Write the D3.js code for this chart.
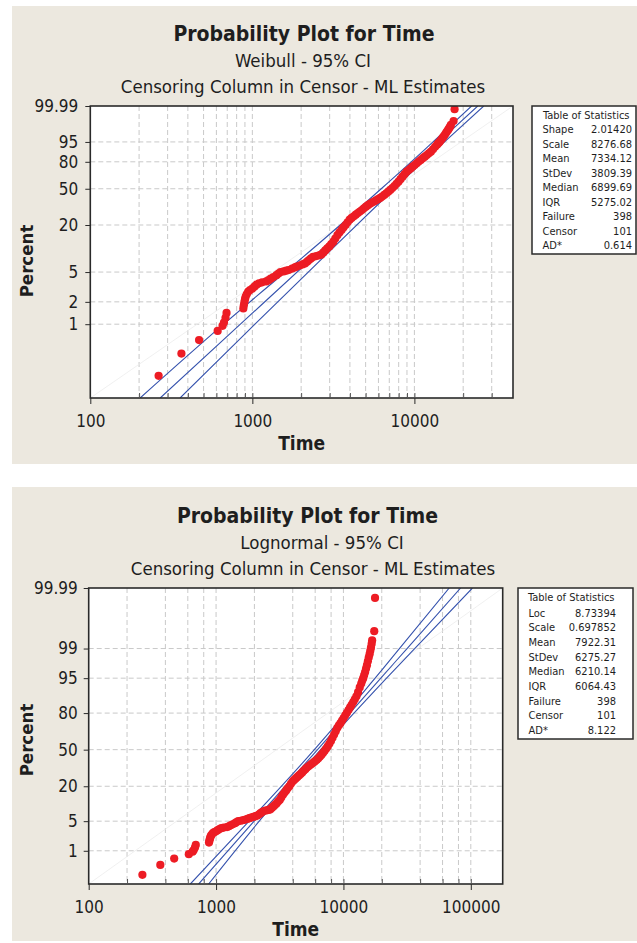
<!DOCTYPE html>
<html>
<head>
<meta charset="utf-8">
<script src="https://cdn.jsdelivr.net/npm/d3@7"></script>
<style>
  body { margin: 0; background: #fff; }
  svg text { font-family: "DejaVu Sans Condensed", "DejaVu Sans", sans-serif; fill: #1e1e1e; }
</style>
</head>
<body>
<div id="chart"></div>
<script>
// failure times and their plotted percentages (same estimates on both plots)
const times = [264, 365, 469, 611, 655, 668, 683, 693,
  880, 886, 893, 901, 910, 925, 944, 968, 1000, 1030, 1062, 1100, 1150, 1219, 1260, 1300,
  1350, 1409, 1450, 1493, 1560, 1620, 1675, 1760, 1830, 1879, 1960, 2040, 2113, 2180, 2236,
  2300, 2370, 2480, 2580, 2660, 2740, 2820, 2900, 2987, 3070, 3163, 3250, 3350, 3450, 3553,
  3650, 3760, 3870, 3987, 4100, 4228, 4350, 4477, 4610, 4746, 4880, 5027, 5170, 5322, 5480,
  5640, 5800, 5970, 6150, 6326, 6520, 6710, 6900, 7100, 7310, 7530, 7750, 7980, 8210, 8450,
  8700, 8960, 9220, 9490, 9760, 10040, 10340, 10640, 10960, 11280, 11600, 11940, 12290, 12650,
  13030, 13420, 13800, 14050, 14300, 14550, 14800, 15050, 15300, 15550, 15800, 16050, 16250,
  16450, 16650, 16800, 17450, 17700];
const percents = [0.20, 0.40, 0.61, 0.81, 0.95, 1.05, 1.22, 1.42,
  1.63, 1.80, 1.98, 2.17, 2.36, 2.55, 2.75, 2.88, 3.02, 3.20, 3.40, 3.55, 3.65, 3.75, 3.90, 4.08,
  4.30, 4.55, 4.78, 5.00, 5.10, 5.22, 5.32, 5.55, 5.75, 5.90, 6.10, 6.30, 6.50, 6.85, 7.20,
  7.55, 7.90, 8.10, 8.30, 8.45, 9.00, 9.60, 10.2, 10.8, 11.6, 12.4, 13.6, 15.0, 16.2, 17.4,
  18.7, 20.0, 21.6, 23.2, 24.3, 25.4, 26.5, 27.7, 28.8, 30.0, 31.4, 32.7, 34.0, 35.1, 36.2,
  37.2, 38.3, 39.4, 40.6, 41.9, 43.5, 45.2, 46.9, 48.7, 50.8, 53.0, 55.4, 57.9, 60.7, 63.6,
  66.5, 69.3, 71.2, 73.0, 74.9, 76.7, 78.5, 80.2, 81.9, 83.5, 84.9, 86.3, 87.7, 89.0,
  90.7, 92.4, 93.6, 94.4, 95.0, 95.7, 96.3, 96.9, 97.4, 97.9, 98.3, 98.6, 98.85,
  99.05, 99.25, 99.4, 99.68, 99.976];

// fitted line and 95% CI, read at a few percent levels
const weibullBandPct = [0.1, 1, 10, 50, 90, 99.99];
const weibullBandLeft = [203, 665, 2349, 6243, 11440, 22540];
const weibullBandMid = [270, 844, 2697, 6845, 12400, 24600];
const weibullBandRight = [358, 1038, 3097, 7505, 13440, 26800];

const lognormBandPct = [0.1, 5, 50, 95, 99, 99.99];
const lognormBandLeft = [628, 1816, 5911, 17730, 27500, 67700];
const lognormBandMid = [730, 1990, 6260, 19660, 31570, 83200];
const lognormBandRight = [874, 2181, 6629, 21800, 36240, 103000];

// axis ticks
const weibullYTicks = [99.99, 95, 80, 50, 20, 5, 2, 1];
const lognormYTicks = [99.99, 99, 95, 80, 50, 20, 5, 1];
const weibullDecades = [100, 1000, 10000];
const lognormDecades = [100, 1000, 10000, 100000];
const weibullGridX = [200, 300, 400, 500, 600, 700, 800, 900, 1000, 2000, 3000, 4000, 5000, 6000, 7000, 8000, 9000, 10000, 20000, 30000];
const lognormGridX = [200, 400, 600, 800, 1000, 2000, 4000, 6000, 8000, 10000, 20000, 40000, 60000, 80000, 100000];

// table of statistics
const weibullStatNames = ["Shape", "Scale", "Mean", "StDev", "Median", "IQR", "Failure", "Censor", "AD*"];
const weibullStatValues = ["2.01420", "8276.68", "7334.12", "3809.39", "6899.69", "5275.02", "398", "101", "0.614"];
const lognormStatNames = ["Loc", "Scale", "Mean", "StDev", "Median", "IQR", "Failure", "Censor", "AD*"];
const lognormStatValues = ["8.73394", "0.697852", "7922.31", "6275.27", "6210.14", "6064.43", "398", "101", "8.122"];

// inverse standard normal cdf (Acklam)
function qnorm(p) {
  const a = [-3.969683028665376e+01, 2.209460984245205e+02, -2.759285104469687e+02, 1.383577518672690e+02, -3.066479806614716e+01, 2.506628277459239e+00];
  const b = [-5.447609879822406e+01, 1.615858368580409e+02, -1.556989798598866e+02, 6.680131188771972e+01, -1.328068155288572e+01];
  const c = [-7.784894002430293e-03, -3.223964580411365e-01, -2.400758277161838e+00, -2.549732539343734e+00, 4.374664141464968e+00, 2.938163982698783e+00];
  const d = [7.784695709041462e-03, 3.224671290700398e-01, 2.445134137142996e+00, 3.754408661907416e+00];
  let q, r;
  if (p < 0.02425) {
    q = Math.sqrt(-2 * Math.log(p));
    return (((((c[0]*q+c[1])*q+c[2])*q+c[3])*q+c[4])*q+c[5]) / ((((d[0]*q+d[1])*q+d[2])*q+d[3])*q+1);
  }
  if (p > 1 - 0.02425) {
    q = Math.sqrt(-2 * Math.log(1 - p));
    return -(((((c[0]*q+c[1])*q+c[2])*q+c[3])*q+c[4])*q+c[5]) / ((((d[0]*q+d[1])*q+d[2])*q+d[3])*q+1);
  }
  q = p - 0.5; r = q * q;
  return (((((a[0]*r+a[1])*r+a[2])*r+a[3])*r+a[4])*r+a[5])*q / (((((b[0]*r+b[1])*r+b[2])*r+b[3])*r+b[4])*r+1);
}

const svg = d3.select("#chart").append("svg")
  .attr("width", 637)
  .attr("height", 943);

const panels = [
  {
    bgTop: 6, bgHeight: 458, plot: { l: 90.3, r: 513, t: 106, b: 398 }, xMax: 40600,
    tf: v => Math.log(-Math.log(1 - v / 100)),
    yTicks: weibullYTicks, decades: weibullDecades, gridX: weibullGridX,
    subtitle: "Weibull - 95% CI", titleX: 304, subX: 303, sub2X: 303, percentY: 261, yPad: 7,
    bandPct: weibullBandPct, bands: [weibullBandLeft, weibullBandMid, weibullBandRight],
    names: weibullStatNames, values: weibullStatValues,
    box: { x: 532, y: 106, w: 104, h: 148, labelX: 542.5, valueX: 632, headY: 119, row0: 133, step: 14.55 }
  },
  {
    bgTop: 487, bgHeight: 454, plot: { l: 88.7, r: 502.7, t: 588, b: 884 }, xMax: 178000,
    tf: v => qnorm(v / 100),
    yTicks: lognormYTicks, decades: lognormDecades, gridX: lognormGridX,
    subtitle: "Lognormal - 95% CI", titleX: 307.5, subX: 322, sub2X: 313, percentY: 740, yPad: 6,
    bandPct: lognormBandPct, bands: [lognormBandLeft, lognormBandMid, lognormBandRight],
    names: lognormStatNames, values: lognormStatValues,
    box: { x: 518, y: 588, w: 115, h: 151, labelX: 528.5, valueX: 616, headY: 601, row0: 616.5, step: 14.7 }
  }
];

panels.forEach(function (cfg, k) {
  const p = cfg.plot;
  const g = svg.append("g");

  g.append("rect")
    .attr("x", 12).attr("y", cfg.bgTop)
    .attr("width", 637 - 12).attr("height", cfg.bgHeight)
    .attr("fill", "#ece8df");

  // titles
  g.append("text").attr("x", cfg.titleX).attr("y", p.t - 65.3)
    .attr("text-anchor", "middle").style("font-size", "21px").style("font-weight", "bold")
    .text("Probability Plot for Time");
  g.append("text").attr("x", cfg.subX).attr("y", p.t - 39.3)
    .attr("text-anchor", "middle").style("font-size", "18.5px")
    .text(cfg.subtitle);
  g.append("text").attr("x", cfg.sub2X).attr("y", p.t - 13.3)
    .attr("text-anchor", "middle").style("font-size", "18.5px")
    .text("Censoring Column in Censor - ML Estimates");

  const x = d3.scaleLog().domain([100, cfg.xMax]).range([p.l, p.r]);
  const y = d3.scaleLinear().domain([cfg.tf(0.1), cfg.tf(99.99)]).range([p.b, p.t]);

  g.append("rect")
    .attr("x", p.l).attr("y", p.t)
    .attr("width", p.r - p.l).attr("height", p.b - p.t)
    .attr("fill", "#fff");

  const clipId = "clip" + k;
  g.append("clipPath").attr("id", clipId).append("rect")
    .attr("x", p.l).attr("y", p.t)
    .attr("width", p.r - p.l).attr("height", p.b - p.t);

  // grid
  g.append("g").selectAll("line")
    .data(cfg.gridX)
    .join("line")
    .attr("x1", d => x(d)).attr("x2", d => x(d))
    .attr("y1", p.t).attr("y2", p.b)
    .attr("stroke", "#c9c9c9").attr("stroke-dasharray", "5,3");
  g.append("g").selectAll("line")
    .data(cfg.yTicks.filter(d => d < 99.99))
    .join("line")
    .attr("x1", p.l).attr("x2", p.r)
    .attr("y1", d => y(cfg.tf(d))).attr("y2", d => y(cfg.tf(d)))
    .attr("stroke", "#c9c9c9").attr("stroke-dasharray", "5,3");

  // faint reference diagonal
  g.append("line")
    .attr("x1", p.l).attr("y1", p.b).attr("x2", p.r).attr("y2", p.t)
    .attr("stroke", "#ececec").attr("stroke-width", 0.8);

  // fit + CI lines
  const line = d3.line()
    .x(d => x(d[0]))
    .y(d => y(cfg.tf(d[1])))
    .curve(d3.curveNatural);
  g.append("g").attr("clip-path", "url(#" + clipId + ")")
    .selectAll("path")
    .data(cfg.bands.map(b => b.map((t, i) => [t, cfg.bandPct[i]])))
    .join("path")
    .attr("d", line)
    .attr("fill", "none")
    .attr("stroke", "#3552ad")
    .attr("stroke-width", 1.1);

  // points
  g.append("g").attr("clip-path", "url(#" + clipId + ")")
    .selectAll("circle")
    .data(times.map((t, i) => [t, percents[i]]))
    .join("circle")
    .attr("cx", d => x(d[0]))
    .attr("cy", d => y(cfg.tf(d[1])))
    .attr("r", 4.1)
    .attr("fill", "#ed1c24");

  // frame
  g.append("rect")
    .attr("x", p.l).attr("y", p.t)
    .attr("width", p.r - p.l).attr("height", p.b - p.t)
    .attr("fill", "none").attr("stroke", "#2a2a2a").attr("stroke-width", 1.6);

  // y axis
  const yAxis = g.append("g")
    .attr("transform", "translate(" + p.l + ",0)")
    .call(d3.axisLeft(y)
      .tickValues(cfg.yTicks.map(cfg.tf))
      .tickFormat((v, i) => String(cfg.yTicks[i]))
      .tickSize(5)
      .tickPadding(cfg.yPad));
  yAxis.select(".domain").remove();
  yAxis.selectAll("line").attr("stroke", "#2a2a2a");
  yAxis.selectAll("text").style("font-size", "17px").attr("fill", "#1e1e1e");

  // x axis: major ticks outward with labels, minor ticks inward
  const xAxis = g.append("g")
    .attr("transform", "translate(0," + p.b + ")")
    .call(d3.axisBottom(x)
      .tickValues(cfg.decades)
      .tickFormat(d3.format("d"))
      .tickSize(6)
      .tickPadding(11));
  xAxis.select(".domain").remove();
  xAxis.selectAll("line").attr("stroke", "#2a2a2a");
  xAxis.selectAll("text").style("font-size", "17px").attr("fill", "#1e1e1e");

  const xMinor = g.append("g")
    .attr("transform", "translate(0," + p.b + ")")
    .call(d3.axisBottom(x)
      .tickValues(cfg.gridX)
      .tickFormat("")
      .tickSize(-5));
  xMinor.select(".domain").remove();
  xMinor.selectAll("line").attr("stroke", "#555");

  // axis titles
  g.append("text")
    .attr("x", (p.l + p.r) / 2).attr("y", p.b + 52.3)
    .attr("text-anchor", "middle")
    .style("font-size", "19px").style("font-weight", "bold")
    .text("Time");
  g.append("text")
    .attr("transform", "translate(32.5," + cfg.percentY + ") rotate(-90)")
    .attr("text-anchor", "middle")
    .style("font-size", "18.5px").style("font-weight", "bold")
    .text("Percent");

  // table of statistics
  const b = cfg.box;
  g.append("rect")
    .attr("x", b.x).attr("y", b.y).attr("width", b.w).attr("height", b.h)
    .attr("fill", "#fff").attr("stroke", "#2a2a2a").attr("stroke-width", 1.5);
  g.append("text")
    .attr("x", (b.labelX + b.valueX) / 2 - 1).attr("y", b.headY)
    .attr("text-anchor", "middle").style("font-size", "11px")
    .text("Table of Statistics");
  g.append("g").selectAll("text")
    .data(cfg.names)
    .join("text")
    .attr("x", b.labelX).attr("y", (d, i) => b.row0 + i * b.step)
    .style("font-size", "11px")
    .text(d => d);
  g.append("g").selectAll("text")
    .data(cfg.values)
    .join("text")
    .attr("x", b.valueX).attr("y", (d, i) => b.row0 + i * b.step)
    .attr("text-anchor", "end")
    .style("font-size", "11px")
    .text(d => d);
});
</script>
</body>
</html>
